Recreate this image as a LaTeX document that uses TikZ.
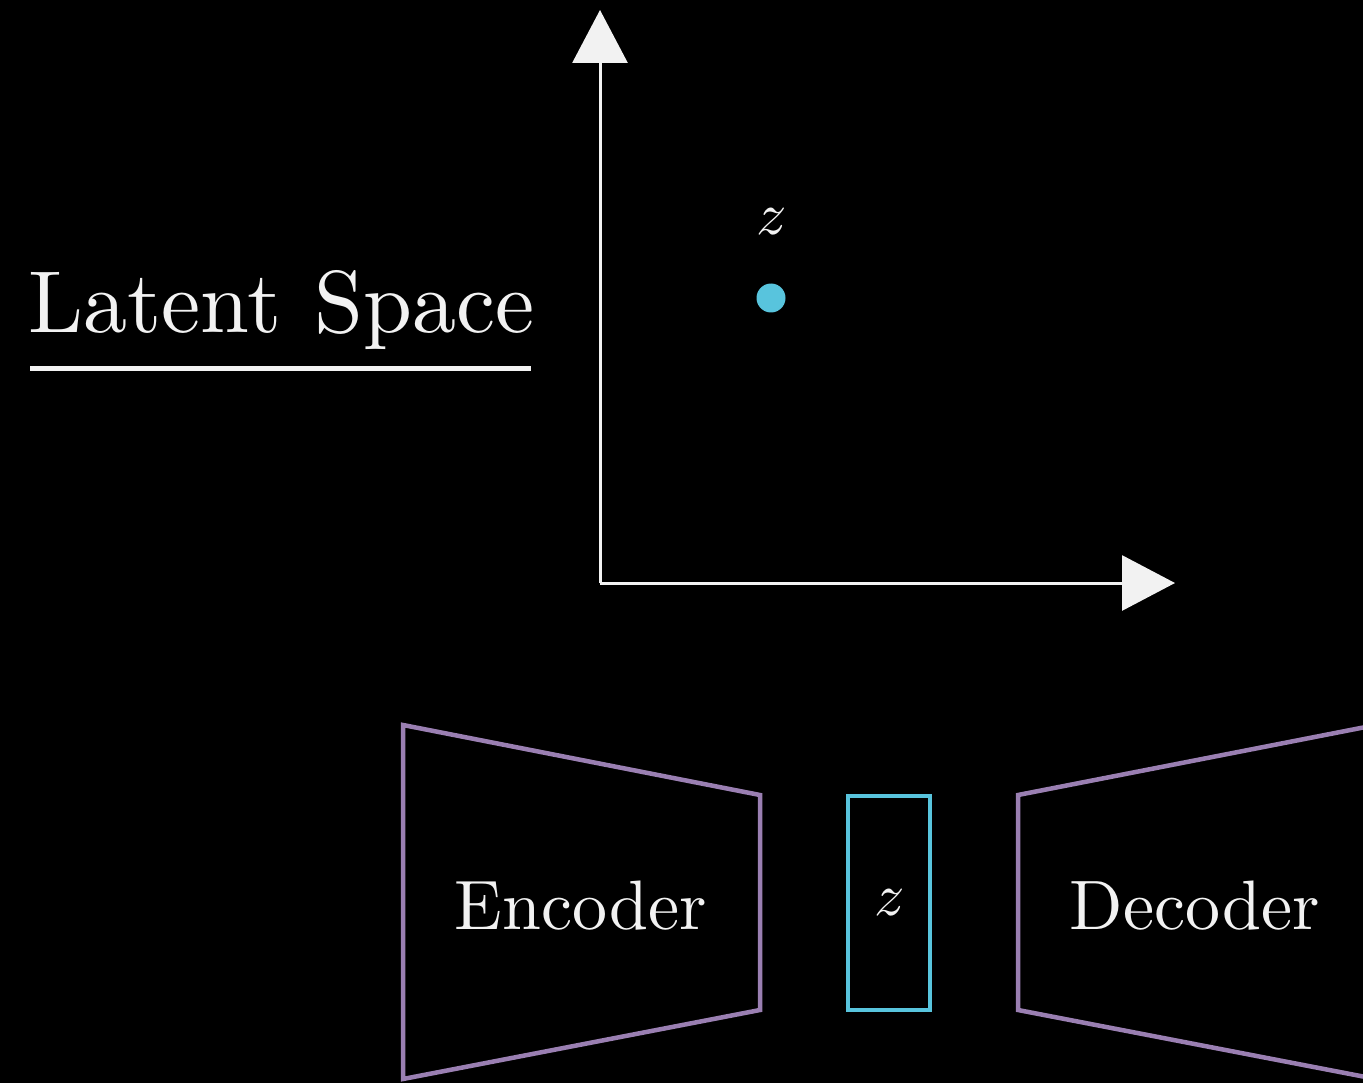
\documentclass[tikz,border=0pt]{standalone}
\usepackage{fontspec}
\setmainfont{lmroman10-regular}[Extension=.otf,ItalicFont=lmroman10-italic]
\newfontfamily\lmmath{latinmodern-math}[Extension=.otf]
\usetikzlibrary{arrows.meta}
\definecolor{mpurple}{HTML}{9A7FB2}
\definecolor{mblue}{HTML}{58C4DD}
\definecolor{mwhite}{HTML}{F2F2F2}
\tikzset{
  axisline/.style={draw=mwhite,line width=3pt,-{Triangle[length=53pt,width=55pt]}},
  netshape/.style={draw=mpurple,line width=4.5pt,line join=miter},
  bigtext/.style={text=mwhite,inner sep=0pt},
}
\newcommand{\zvar}{{\lmmath\fontsize{60}{64}\selectfont 𝑧}}
\begin{document}
\begin{tikzpicture}[x=1pt,y=-1pt]
\fill[black] (0,0) rectangle (1363,1083);
\useasboundingbox (0,0) rectangle (1363,1083);
\clip (0,0) rectangle (1363,1083);
% title
\node[bigtext,anchor=base west] (title) at (28,333) {\fontsize{88}{100}\selectfont Latent\hspace{4pt} Space};
\draw[mwhite,line width=5pt] (30,368) -- (531,368);
% axes
\coordinate (O) at (600,583);
\coordinate (ytip) at (600,10);
\coordinate (xtip) at (1175,583);
\draw[axisline] (O) -- (ytip);
\draw[axisline] (O) -- (xtip);
% point
\node[circle,fill=mblue,minimum size=29pt,inner sep=0pt] (pt) at (771,298) {};
\node[bigtext] (zlab) at (770,222) {\zvar};
% encoder
\draw[netshape] (403,725) -- (760,795) -- (760,1010) -- (403,1079) -- cycle;
\node[bigtext] (enc) at (581,906) {\fontsize{70}{80}\selectfont Encoder};
% latent box
\node[draw=mblue,line width=4.5pt,minimum width=82pt,minimum height=214pt,inner sep=0pt] (zbox) at (889,903) {};
\node[bigtext] (zin) at (888,903) {\zvar};
% decoder
\draw[netshape] (1018,795) -- (1376,725) -- (1376,1079) -- (1018,1010) -- cycle;
\node[bigtext] (dec) at (1195,906) {\fontsize{70}{80}\selectfont Decoder};
\end{tikzpicture}
\end{document}
